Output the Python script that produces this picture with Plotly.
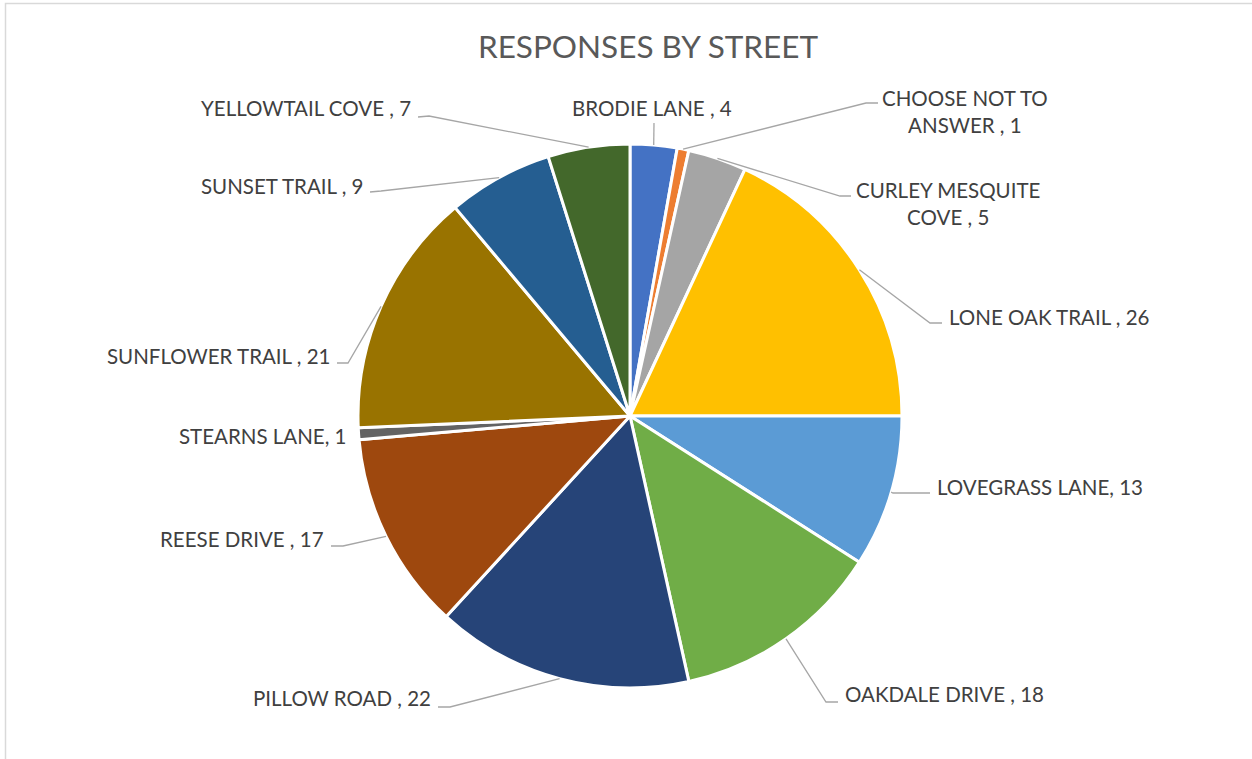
import math
import plotly.graph_objects as go

# Datos del gráfico
calles = ["BRODIE LANE ", "CHOOSE NOT TO ANSWER ", "CURLEY MESQUITE COVE ", "LONE OAK TRAIL ",
          "LOVEGRASS LANE", "OAKDALE DRIVE ", "PILLOW ROAD ", "REESE DRIVE ", "STEARNS LANE",
          "SUNFLOWER TRAIL ", "SUNSET TRAIL ", "YELLOWTAIL COVE "]
respuestas = [4, 1, 5, 26, 13, 18, 22, 17, 1, 21, 9, 7]
colores = ["#4472C4", "#ED7D31", "#A5A5A5", "#FFC000", "#5B9BD5", "#70AD47",
           "#264478", "#9E480E", "#636363", "#997300", "#255E91", "#43682B"]

W, H = 1252, 759
CX, CY, R = 630, 416, 272

# Posición de etiquetas (codo de la línea, fin de la línea, texto x, texto y, anclaje)
etiquetas = [
    ((654, 123), (654, 123), 652, 108, "center"),
    ((866, 103), (878, 103), 965, 111, "center"),
    ((840, 196), (851, 196), 948, 203, "center"),
    ((930, 323), (942, 323), 947, 317, "left"),
    ((893, 493), (930, 493), 935, 487, "left"),
    ((826, 702), (838, 702), 843, 694, "left"),
    ((450, 707), (438, 707), 433, 698, "right"),
    ((343, 546), (331, 546), 326, 539, "right"),
    (None, None, 349, 436, "right"),
    ((348, 363), (337, 363), 332, 356, "right"),
    ((381, 191), (370, 192), 365, 186, "right"),
    ((429, 116), (418, 117), 413, 108, "right"),
]
cortes = {"CHOOSE NOT TO ANSWER ": "CHOOSE NOT TO<br>ANSWER ", "CURLEY MESQUITE COVE ": "CURLEY MESQUITE<br>COVE "}

fig = go.Figure()

# Pastel
fig.add_trace(go.Pie(
    labels=calles, values=respuestas, sort=False, direction="clockwise",
    marker=dict(colors=colores, line=dict(color="white", width=3)),
    textinfo="none", showlegend=False,
    domain=dict(x=[(CX - R) / W, (CX + R) / W], y=[(H - CY - R) / H, (H - CY + R) / H]),
))

# Ejes invisibles en píxeles para las líneas guía
fig.add_trace(go.Scatter(x=[0, W], y=[0, H], mode="markers", marker=dict(opacity=0),
                         hoverinfo="skip", showlegend=False))

total = sum(respuestas)
acum = 0
shapes = []
annotations = []
for nombre, v, (codo, fin, tx, ty, anc) in zip(calles, respuestas, etiquetas):
    ang = math.radians((acum + v / 2) / total * 360)
    acum += v
    if codo is not None:
        x0, y0 = CX + R * math.sin(ang), CY - R * math.cos(ang)
        shapes.append(dict(type="path", xref="x", yref="y",
                           path=f"M {x0},{y0} L {codo[0]},{codo[1]} L {fin[0]},{fin[1]}",
                           line=dict(color="#A6A6A6", width=1.3)))
    texto = cortes.get(nombre, nombre) + ", " + str(v)
    annotations.append(dict(x=tx, y=ty, xref="x", yref="y", text=texto, showarrow=False,
                            xanchor=anc, yanchor="middle", align="center",
                            font=dict(family="Lato", size=20.5, color="#404040")))

# Marco
shapes.append(dict(type="path", xref="x", yref="y", path=f"M 5.5,{H} L 5.5,3.5 L {W},3.5",
                   line=dict(color="#D9D9D9", width=1.5)))

fig.update_layout(
    width=W, height=H, margin=dict(l=0, r=0, t=0, b=0),
    paper_bgcolor="white", plot_bgcolor="rgba(0,0,0,0)",
    title=dict(text="RESPONSES BY STREET", x=648 / W, xanchor="center", y=1 - 47 / H, yanchor="middle",
               font=dict(family="Lato", size=31.5, color="#595959")),
    xaxis=dict(range=[0, W], visible=False, fixedrange=True),
    yaxis=dict(range=[H, 0], visible=False, fixedrange=True),
    shapes=shapes, annotations=annotations,
)

# Quita el margen del body para que la figura empiece en (0,0)
fig.write_html("out.html", config=dict(displayModeBar=False),
               post_script="document.body.style.margin='0';")
